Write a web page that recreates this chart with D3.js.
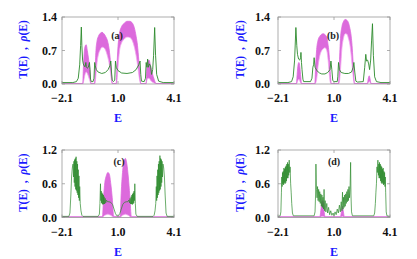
<!DOCTYPE html>
<html><head><meta charset="utf-8">
<script src="https://cdn.jsdelivr.net/npm/d3@7"></script>
<style>body{margin:0;background:#fff}svg{display:block}</style>
</head><body>
<svg id="c" width="417" height="259"></svg>
<script>
// ---------- data ----------
const xTicks = [-2.1, 1.0, 4.1];
const xTickLabels = ["\u22122.1", "1.0", "4.1"];
const yTicksTop = [0.0, 0.7, 1.4];
const yTicksBottom = [0.0, 0.6, 1.2];
const panelLabels = ["(a)", "(b)", "(c)", "(d)"];

// green line T(E): [E, value]
const greenA = [[-2.1,0.03],[-1.5,0.03],[-1.3,0.05],[-1.2,0.12],[-1.12,0.4],[-1.07,0.8],[-1.03,1.19],[-1.0,0.8],[-0.96,0.5],[-0.92,0.42],[-0.88,0.38],[-0.82,0.36],[-0.78,0.45],[-0.75,0.36],[-0.7,0.33],[-0.64,0.35],[-0.58,0.45],[-0.55,0.3],[-0.52,0.1],[-0.48,0.05],[-0.38,0.05],[-0.33,0.12],[-0.29,0.45],[-0.26,0.38],[-0.2,0.3],[-0.1,0.25],[0.1,0.22],[0.3,0.24],[0.45,0.3],[0.55,0.38],[0.6,0.48],[0.64,0.25],[0.68,0.08],[0.75,0.05],[0.82,0.08],[0.86,0.48],[0.9,0.35],[1.0,0.28],[1.2,0.23],[1.5,0.22],[1.8,0.24],[2.0,0.3],[2.15,0.4],[2.22,0.48],[2.26,0.2],[2.3,0.06],[2.45,0.05],[2.52,0.12],[2.56,0.45],[2.6,0.35],[2.64,0.52],[2.68,0.35],[2.74,0.42],[2.8,0.38],[2.86,0.2],[2.92,0.3],[2.97,0.6],[3.03,1.18],[3.08,0.6],[3.14,0.2],[3.25,0.06],[3.5,0.03],[4.1,0.03]];
const greenB = [[-2.1,0.03],[-1.55,0.03],[-1.35,0.05],[-1.26,0.15],[-1.18,0.5],[-1.11,1.18],[-1.06,0.8],[-1.02,0.62],[-0.96,0.52],[-0.9,0.5],[-0.85,0.55],[-0.83,0.66],[-0.8,0.45],[-0.77,0.3],[-0.72,0.1],[-0.68,0.05],[-0.3,0.05],[-0.22,0.12],[-0.17,0.35],[-0.13,0.4],[-0.1,0.55],[-0.05,0.35],[0.05,0.28],[0.2,0.23],[0.32,0.21],[0.5,0.21],[0.65,0.24],[0.78,0.3],[0.83,0.48],[0.88,0.3],[0.93,0.08],[0.98,0.05],[1.18,0.05],[1.21,0.15],[1.25,0.45],[1.3,0.3],[1.4,0.24],[1.6,0.22],[1.8,0.22],[1.97,0.25],[2.06,0.35],[2.1,0.45],[2.15,0.25],[2.21,0.06],[2.3,0.04],[2.62,0.05],[2.7,0.35],[2.76,0.62],[2.8,0.48],[2.86,0.5],[2.92,0.42],[2.97,0.3],[3.03,0.5],[3.08,0.9],[3.13,1.26],[3.18,0.6],[3.25,0.15],[3.35,0.05],[3.6,0.03],[4.1,0.03]];
const greenC = [[-2.1,0.02],[-1.72,0.02],[-1.66,0.08],[-1.61,0.4],[-1.57,0.72],[-1.53,0.88],[-1.49,0.95],[-1.46,0.72],[-1.44,1.0],[-1.42,0.62],[-1.4,1.03],[-1.38,0.55],[-1.36,1.05],[-1.34,0.5],[-1.32,1.08],[-1.3,0.48],[-1.28,1.0],[-1.26,0.44],[-1.24,0.95],[-1.22,0.4],[-1.2,0.85],[-1.18,0.35],[-1.16,0.74],[-1.14,0.3],[-1.12,0.55],[-1.09,0.25],[-1.05,0.12],[-1.0,0.04],[-0.94,0.02],
  [-0.1,0.02],[-0.03,0.06],[0.0,0.25],[0.03,0.6],[0.05,0.3],[0.07,0.47],[0.09,0.26],[0.11,0.44],[0.13,0.24],[0.15,0.42],[0.17,0.23],[0.19,0.4],[0.21,0.24],[0.23,0.37],[0.26,0.24],[0.29,0.34],[0.32,0.26],[0.36,0.31],[0.42,0.28],[0.5,0.28],[0.6,0.27],[0.7,0.23],[0.78,0.15],[0.86,0.07],[0.94,0.03],[1.02,0.03],[1.1,0.07],[1.18,0.15],[1.26,0.23],[1.36,0.27],[1.46,0.28],[1.54,0.28],[1.6,0.31],[1.64,0.26],[1.67,0.34],[1.7,0.24],[1.73,0.37],[1.75,0.24],[1.77,0.4],[1.79,0.23],[1.81,0.42],[1.83,0.24],[1.85,0.44],[1.87,0.26],[1.89,0.47],[1.91,0.3],[1.93,0.6],[1.96,0.25],[1.99,0.06],[2.06,0.02],
  [2.94,0.02],[3.0,0.04],[3.05,0.12],[3.09,0.25],[3.12,0.55],[3.14,0.3],[3.16,0.74],[3.18,0.35],[3.2,0.85],[3.22,0.4],[3.24,0.95],[3.26,0.44],[3.28,1.0],[3.3,0.48],[3.32,1.1],[3.34,0.5],[3.36,1.05],[3.38,0.55],[3.4,1.03],[3.42,0.62],[3.44,1.0],[3.46,0.72],[3.49,0.95],[3.53,0.88],[3.57,0.72],[3.61,0.4],[3.66,0.08],[3.72,0.02],[4.1,0.02]];
const greenD = [[-2.1,0.02],[-1.98,0.03],[-1.94,0.1],[-1.91,0.45],[-1.89,0.72],[-1.87,0.55],[-1.85,0.8],[-1.83,0.6],[-1.81,0.82],[-1.79,0.58],[-1.77,0.88],[-1.75,0.62],[-1.73,0.86],[-1.71,0.6],[-1.69,0.9],[-1.67,0.62],[-1.65,0.92],[-1.63,0.65],[-1.61,0.95],[-1.59,0.7],[-1.57,0.98],[-1.55,0.7],[-1.53,0.95],[-1.51,0.75],[-1.48,1.02],[-1.45,0.8],[-1.43,0.9],[-1.4,0.6],[-1.37,0.45],[-1.34,0.25],[-1.3,0.08],[-1.25,0.03],
  [-0.1,0.03],[-0.05,0.1],[-0.02,0.4],[0.0,0.95],[0.03,0.5],[0.06,0.35],[0.09,0.55],[0.12,0.3],[0.15,0.5],[0.18,0.28],[0.21,0.46],[0.24,0.25],[0.27,0.42],[0.3,0.2],[0.33,0.4],[0.36,0.18],[0.39,0.36],[0.42,0.15],[0.45,0.5],[0.48,0.12],[0.51,0.3],[0.55,0.1],[0.6,0.25],[0.65,0.08],[0.7,0.18],[0.76,0.05],[0.82,0.12],[0.88,0.04],[0.95,0.08],[1.0,0.03],[1.06,0.1],[1.12,0.05],[1.18,0.15],[1.24,0.08],[1.3,0.22],[1.35,0.1],[1.4,0.28],[1.44,0.12],[1.47,0.45],[1.5,0.15],[1.53,0.36],[1.56,0.18],[1.59,0.4],[1.62,0.2],[1.65,0.42],[1.68,0.25],[1.71,0.46],[1.74,0.28],[1.77,0.5],[1.8,0.3],[1.83,0.55],[1.86,0.35],[1.89,0.5],[1.92,0.98],[1.94,0.4],[1.97,0.1],[2.02,0.03],
  [3.2,0.03],[3.25,0.08],[3.29,0.25],[3.32,0.45],[3.35,0.6],[3.38,0.9],[3.4,0.8],[3.43,1.02],[3.46,0.75],[3.48,0.95],[3.5,0.7],[3.52,0.98],[3.54,0.7],[3.56,0.95],[3.58,0.65],[3.6,0.92],[3.62,0.62],[3.64,0.9],[3.66,0.6],[3.68,0.86],[3.7,0.62],[3.72,0.88],[3.74,0.58],[3.76,0.82],[3.78,0.6],[3.8,0.8],[3.82,0.55],[3.84,0.72],[3.86,0.45],[3.89,0.1],[3.93,0.03],[4.1,0.02]];

// magenta band rho(E): [E, lower, upper]
const bandA = [[-2.1,0,0.01],[-0.95,0,0.01],[-0.92,0.03,0.3],[-0.87,0.12,0.65],[-0.81,0.22,0.8],[-0.76,0.25,0.82],[-0.7,0.22,0.7],[-0.63,0.15,0.52],[-0.57,0.08,0.35],[-0.53,0.03,0.15],[-0.5,0,0.01],[-0.3,0,0.01],[-0.27,0.02,0.25],[-0.22,0.2,0.7],[-0.16,0.45,0.9],[-0.08,0.62,1.0],[0.02,0.72,1.06],[0.12,0.77,1.08],[0.22,0.76,1.05],[0.32,0.7,0.99],[0.42,0.58,0.9],[0.5,0.45,0.75],[0.56,0.3,0.56],[0.61,0.15,0.36],[0.65,0.04,0.15],[0.69,0,0.01],[0.9,0,0.01],[0.94,0.05,0.35],[1.0,0.35,0.78],[1.08,0.68,1.05],[1.2,0.86,1.2],[1.35,0.94,1.27],[1.5,0.98,1.31],[1.65,0.97,1.31],[1.8,0.9,1.27],[1.9,0.78,1.18],[2.0,0.6,1.0],[2.08,0.4,0.8],[2.15,0.2,0.5],[2.2,0.08,0.25],[2.26,0,0.01],[2.55,0,0.01],[2.6,0.08,0.35],[2.66,0.12,0.48],[2.72,0.12,0.5],[2.8,0.08,0.38],[2.9,0.04,0.22],[3.0,0.02,0.1],[3.1,0,0.01],[4.1,0,0.01]];
const bandB = [[-2.1,0,0.01],[-1.08,0,0.01],[-1.04,0.03,0.2],[-0.99,0.08,0.4],[-0.94,0.1,0.45],[-0.89,0.06,0.35],[-0.84,0.02,0.15],[-0.8,0,0.01],[-0.06,0,0.01],[-0.02,0.02,0.35],[0.04,0.1,0.72],[0.12,0.38,0.92],[0.22,0.6,1.0],[0.32,0.7,1.04],[0.42,0.74,1.05],[0.5,0.76,1.03],[0.6,0.7,0.98],[0.66,0.55,0.85],[0.72,0.3,0.66],[0.76,0.12,0.45],[0.8,0.03,0.2],[0.85,0,0.01],[1.25,0,0.01],[1.3,0.05,0.45],[1.36,0.3,0.95],[1.44,0.75,1.2],[1.52,0.95,1.3],[1.62,1.05,1.35],[1.72,1.04,1.33],[1.8,0.95,1.28],[1.88,0.82,1.16],[1.95,0.6,1.0],[2.0,0.4,0.8],[2.05,0.2,0.5],[2.1,0.05,0.15],[2.13,0,0.01],[2.85,0,0.01],[2.9,0.03,0.12],[2.95,0.05,0.17],[3.0,0.03,0.1],[3.05,0,0.01],[4.1,0,0.01]];
const bandC = [[-2.1,0,0.015],[0.14,0,0.015],[0.2,0.02,0.35],[0.27,0.04,0.62],[0.35,0.05,0.74],[0.44,0.06,0.8],[0.52,0.05,0.77],[0.6,0.04,0.6],[0.68,0.02,0.35],[0.76,0,0.02],[1.12,0,0.02],[1.18,0.02,0.45],[1.25,0.04,0.8],[1.33,0.05,1.0],[1.41,0.06,1.05],[1.49,0.05,0.95],[1.57,0.04,0.72],[1.65,0.02,0.4],[1.74,0,0.015],[4.1,0,0.015]];
const bandD = [[-2.1,0,0.015],[0.22,0,0.015],[0.27,0.01,0.12],[0.33,0.02,0.27],[0.39,0.02,0.3],[0.45,0.01,0.12],[0.5,0,0.015],[1.36,0,0.015],[1.41,0.01,0.1],[1.47,0.02,0.2],[1.52,0.01,0.1],[1.57,0,0.015],[4.1,0,0.015]];

// ---------- drawing ----------
const svg = d3.select("#c");
const GREEN = "#2b8a2b", MAG = "#dc6adc", MAGL = "#f2a6ef", FRAME = "#9a9a9a";
const panels = [
  {x0:62, x1:174, y0:17, y1:84, yTicks:yTicksTop, ymax:1.4, lab:panelLabels[0], green:greenA, band:bandA, lg:5, ylx:23, lx:117, ly:39, gw:0.9},
  {x0:278, x1:390, y0:17, y1:84, yTicks:yTicksTop, ymax:1.4, lab:panelLabels[1], green:greenB, band:bandB, lg:8, ylx:240, lx:333, ly:39, gw:0.9},
  {x0:62, x1:174, y0:150, y1:217.5, yTicks:yTicksBottom, ymax:1.2, lab:panelLabels[2], green:greenC, band:bandC, lg:5, ylx:23, lx:119, ly:165, gw:0.7},
  {x0:278, x1:390, y0:150, y1:217.5, yTicks:yTicksBottom, ymax:1.2, lab:panelLabels[3], green:greenD, band:bandD, lg:8, ylx:240, lx:334, ly:165, gw:0.7}
];
const font = "'Liberation Serif','Times New Roman',serif";

panels.forEach(p => {
  const x = d3.scaleLinear().domain([-2.1, 4.1]).range([p.x0, p.x1]);
  const y = d3.scaleLinear().domain([0, p.ymax]).range([p.y1, p.y0]);
  const g = svg.append("g");
  const clipId = "clip" + p.lab.replace(/\W/g, "");
  svg.append("clipPath").attr("id", clipId).append("rect")
    .attr("x", p.x0).attr("y", p.y0).attr("width", p.x1 - p.x0).attr("height", p.y1 - p.y0);
  const plot = g.append("g").attr("clip-path", `url(#${clipId})`);

  // magenta band
  const area = d3.area().x(d => x(d[0])).y0(d => y(d[1])).y1(d => y(d[2])).curve(d3.curveMonotoneX);
  plot.append("path").datum(p.band).attr("d", area).attr("fill", MAG).attr("stroke", "none");
  plot.append("path").datum(p.band).attr("d", d3.line().x(d => x(d[0])).y(d => y(d[1])).curve(d3.curveMonotoneX))
    .attr("fill", "none").attr("stroke", MAGL).attr("stroke-width", 0.8);
  plot.append("path").datum(p.band).attr("d", d3.line().x(d => x(d[0])).y(d => y(d[2])).curve(d3.curveMonotoneX))
    .attr("fill", "none").attr("stroke", MAG).attr("stroke-width", 0.8);

  // green line
  plot.append("path").datum(p.green)
    .attr("d", d3.line().x(d => x(d[0])).y(d => y(d[1])).curve(d3.curveLinear))
    .attr("fill", "none").attr("stroke", GREEN).attr("stroke-width", p.gw).attr("stroke-linejoin", "round");

  // frame
  g.append("rect").attr("x", p.x0).attr("y", p.y0).attr("width", p.x1 - p.x0).attr("height", p.y1 - p.y0)
    .attr("fill", "none").attr("stroke", FRAME).attr("stroke-width", 0.8);

  // ticks inward on all sides
  const tl = 3;
  xTicks.forEach(t => {
    g.append("line").attr("x1", x(t)).attr("x2", x(t)).attr("y1", p.y1).attr("y2", p.y1 - tl).attr("stroke", FRAME).attr("stroke-width", 0.8);
    g.append("line").attr("x1", x(t)).attr("x2", x(t)).attr("y1", p.y0).attr("y2", p.y0 + tl).attr("stroke", FRAME).attr("stroke-width", 0.8);
  });
  p.yTicks.forEach(t => {
    g.append("line").attr("x1", p.x0).attr("x2", p.x0 + tl).attr("y1", y(t)).attr("y2", y(t)).attr("stroke", FRAME).attr("stroke-width", 0.8);
    g.append("line").attr("x1", p.x1).attr("x2", p.x1 - tl).attr("y1", y(t)).attr("y2", y(t)).attr("stroke", FRAME).attr("stroke-width", 0.8);
  });

  // tick labels
  xTicks.forEach((t, i) => {
    g.append("text").attr("x", x(t)).attr("y", p.y1 + 18).attr("text-anchor", "middle")
      .attr("font-family", font).attr("font-weight", "bold").attr("font-size", 12).attr("fill", "#111")
      .text(xTickLabels[i]);
  });
  p.yTicks.forEach(t => {
    g.append("text").attr("x", p.x0 - p.lg).attr("y", y(t) + 4).attr("text-anchor", "end")
      .attr("font-family", font).attr("font-weight", "bold").attr("font-size", 12).attr("fill", "#111")
      .text(t.toFixed(1));
  });

  // axis titles
  g.append("text").attr("x", (p.x0 + p.x1) / 2).attr("y", p.y1 + 38).attr("text-anchor", "middle")
    .attr("font-family", font).attr("font-weight", "bold").attr("font-size", 12).attr("fill", "#1a1aff").text("E");
  const cy = (p.y0 + p.y1) / 2 - 1;
  const yl = g.append("text").attr("transform", `translate(${p.ylx + 4},${cy}) rotate(-90)`).attr("text-anchor", "middle")
    .attr("font-family", font).attr("font-weight", "bold").attr("font-size", 11.5).attr("fill", "#1a1aff")
    .attr("xml:space", "preserve").style("white-space", "pre");
  yl.append("tspan").text("T(E)  ,  ");
  yl.append("tspan").attr("font-style", "italic").text("\u03C1");
  yl.append("tspan").text("(E)");

  // panel label
  g.append("text").attr("x", p.lx).attr("y", p.ly).attr("text-anchor", "middle")
    .attr("font-family", font).attr("font-weight", "bold").attr("font-size", 10).attr("fill", "#222").text(p.lab);
});
</script>
</body></html>
